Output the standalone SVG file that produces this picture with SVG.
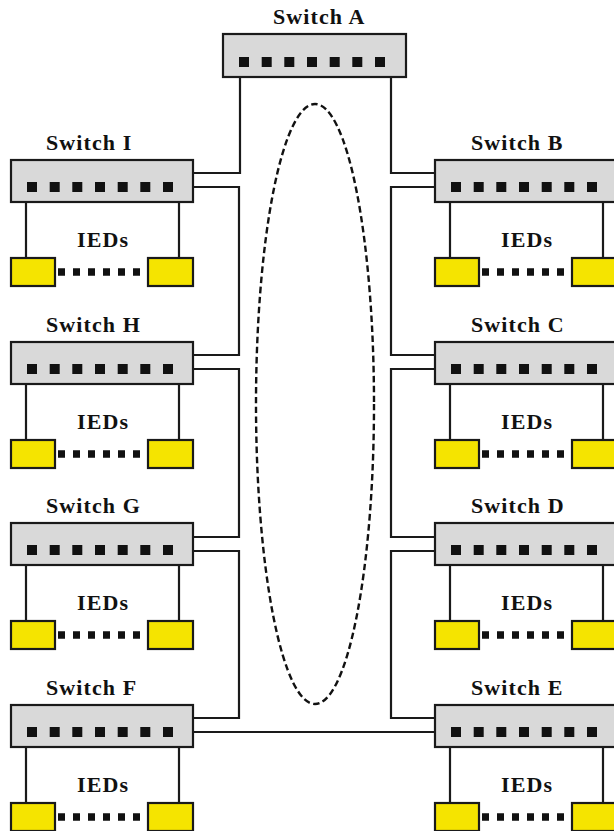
<svg xmlns="http://www.w3.org/2000/svg" xmlns:xlink="http://www.w3.org/1999/xlink" width="614" height="831" viewBox="0 0 614 831">
<style>
.sw{fill:#d9d9d9;stroke:#1a1a1a;stroke-width:2.2}
.port{fill:#111}
.ied{fill:#f5e400;stroke:#1a1a1a;stroke-width:2.2}
.lbl{font-family:"Liberation Serif","Times New Roman",serif;font-weight:bold;font-size:22px;letter-spacing:1.1px;fill:#111}
.wire{fill:none;stroke:#1a1a1a;stroke-width:2.2}
.dots{stroke:#111;stroke-width:7.5;stroke-dasharray:7 8}
.ring{fill:none;stroke:#111;stroke-width:2.4;stroke-dasharray:6.5 3.5}
</style>
<defs>
<g id="ports">
<rect class="port" x="0" y="0" width="10" height="10"/>
<rect class="port" x="22.7" y="0" width="10" height="10"/>
<rect class="port" x="45.3" y="0" width="10" height="10"/>
<rect class="port" x="68" y="0" width="10" height="10"/>
<rect class="port" x="90.7" y="0" width="10" height="10"/>
<rect class="port" x="113.3" y="0" width="10" height="10"/>
<rect class="port" x="136" y="0" width="10" height="10"/>
</g>
</defs>
<rect width="614" height="831" fill="#ffffff"/>

<ellipse class="ring" cx="315" cy="404" rx="59" ry="300"/>

<g id="connectors">
<path class="wire" d="M240 77 V173 H193"/>
<path class="wire" d="M193 187 H239 V355 H193"/>
<path class="wire" d="M193 369 H239 V537 H193"/>
<path class="wire" d="M193 551 H239 V718 H193"/>
<path class="wire" d="M193 732 H435"/>
<path class="wire" d="M391 77 V173 H435"/>
<path class="wire" d="M435 187 H391 V355 H435"/>
<path class="wire" d="M435 369 H391 V537 H435"/>
<path class="wire" d="M435 551 H391 V718 H435"/>
<path class="wire" d="M26 202 V258 M179 202 V258 M450 202 V258 M603 202 V258"/>
<path class="wire" d="M26 384 V440 M179 384 V440 M450 384 V440 M603 384 V440"/>
<path class="wire" d="M26 565 V621 M179 565 V621 M450 565 V621 M603 565 V621"/>
<path class="wire" d="M26 747 V803 M179 747 V803 M450 747 V803 M603 747 V803"/>
</g>

<g id="switch-A">
<text class="lbl" x="273" y="24">Switch A</text>
<rect class="sw" x="223" y="34" width="183" height="43"/>
<use xlink:href="#ports" href="#ports" x="239" y="57"/>
</g>

<g id="switch-I" transform="translate(0,160)">
<text class="lbl" x="46" y="-10">Switch I</text>
<rect class="sw" x="11" y="0" width="182" height="42"/>
<use xlink:href="#ports" href="#ports" x="27" y="22"/>
</g>
<g id="ieds-I" transform="translate(0,160)">
<text class="lbl" x="77" y="87">IEDs</text>
<line class="dots" x1="58" y1="112" x2="141" y2="112"/>
<rect class="ied" x="11" y="98" width="44" height="28"/>
<rect class="ied" x="148" y="98" width="45" height="28"/>
</g>

<g id="switch-H" transform="translate(0,342)">
<text class="lbl" x="46" y="-10">Switch H</text>
<rect class="sw" x="11" y="0" width="182" height="42"/>
<use xlink:href="#ports" href="#ports" x="27" y="22"/>
</g>
<g id="ieds-H" transform="translate(0,342)">
<text class="lbl" x="77" y="87">IEDs</text>
<line class="dots" x1="58" y1="112" x2="141" y2="112"/>
<rect class="ied" x="11" y="98" width="44" height="28"/>
<rect class="ied" x="148" y="98" width="45" height="28"/>
</g>

<g id="switch-G" transform="translate(0,523)">
<text class="lbl" x="46" y="-10">Switch G</text>
<rect class="sw" x="11" y="0" width="182" height="42"/>
<use xlink:href="#ports" href="#ports" x="27" y="22"/>
</g>
<g id="ieds-G" transform="translate(0,523)">
<text class="lbl" x="77" y="87">IEDs</text>
<line class="dots" x1="58" y1="112" x2="141" y2="112"/>
<rect class="ied" x="11" y="98" width="44" height="28"/>
<rect class="ied" x="148" y="98" width="45" height="28"/>
</g>

<g id="switch-F" transform="translate(0,705)">
<text class="lbl" x="46" y="-10">Switch F</text>
<rect class="sw" x="11" y="0" width="182" height="42"/>
<use xlink:href="#ports" href="#ports" x="27" y="22"/>
</g>
<g id="ieds-F" transform="translate(0,705)">
<text class="lbl" x="77" y="87">IEDs</text>
<line class="dots" x1="58" y1="112" x2="141" y2="112"/>
<rect class="ied" x="11" y="98" width="44" height="28"/>
<rect class="ied" x="148" y="98" width="45" height="28"/>
</g>

<g id="switch-B" transform="translate(424,160)">
<text class="lbl" x="47" y="-10">Switch B</text>
<rect class="sw" x="11" y="0" width="182" height="42"/>
<use xlink:href="#ports" href="#ports" x="27" y="22"/>
</g>
<g id="ieds-B" transform="translate(424,160)">
<text class="lbl" x="77" y="87">IEDs</text>
<line class="dots" x1="58" y1="112" x2="141" y2="112"/>
<rect class="ied" x="11" y="98" width="44" height="28"/>
<rect class="ied" x="148" y="98" width="45" height="28"/>
</g>

<g id="switch-C" transform="translate(424,342)">
<text class="lbl" x="47" y="-10">Switch C</text>
<rect class="sw" x="11" y="0" width="182" height="42"/>
<use xlink:href="#ports" href="#ports" x="27" y="22"/>
</g>
<g id="ieds-C" transform="translate(424,342)">
<text class="lbl" x="77" y="87">IEDs</text>
<line class="dots" x1="58" y1="112" x2="141" y2="112"/>
<rect class="ied" x="11" y="98" width="44" height="28"/>
<rect class="ied" x="148" y="98" width="45" height="28"/>
</g>

<g id="switch-D" transform="translate(424,523)">
<text class="lbl" x="47" y="-10">Switch D</text>
<rect class="sw" x="11" y="0" width="182" height="42"/>
<use xlink:href="#ports" href="#ports" x="27" y="22"/>
</g>
<g id="ieds-D" transform="translate(424,523)">
<text class="lbl" x="77" y="87">IEDs</text>
<line class="dots" x1="58" y1="112" x2="141" y2="112"/>
<rect class="ied" x="11" y="98" width="44" height="28"/>
<rect class="ied" x="148" y="98" width="45" height="28"/>
</g>

<g id="switch-E" transform="translate(424,705)">
<text class="lbl" x="47" y="-10">Switch E</text>
<rect class="sw" x="11" y="0" width="182" height="42"/>
<use xlink:href="#ports" href="#ports" x="27" y="22"/>
</g>
<g id="ieds-E" transform="translate(424,705)">
<text class="lbl" x="77" y="87">IEDs</text>
<line class="dots" x1="58" y1="112" x2="141" y2="112"/>
<rect class="ied" x="11" y="98" width="44" height="28"/>
<rect class="ied" x="148" y="98" width="45" height="28"/>
</g>
</svg>
